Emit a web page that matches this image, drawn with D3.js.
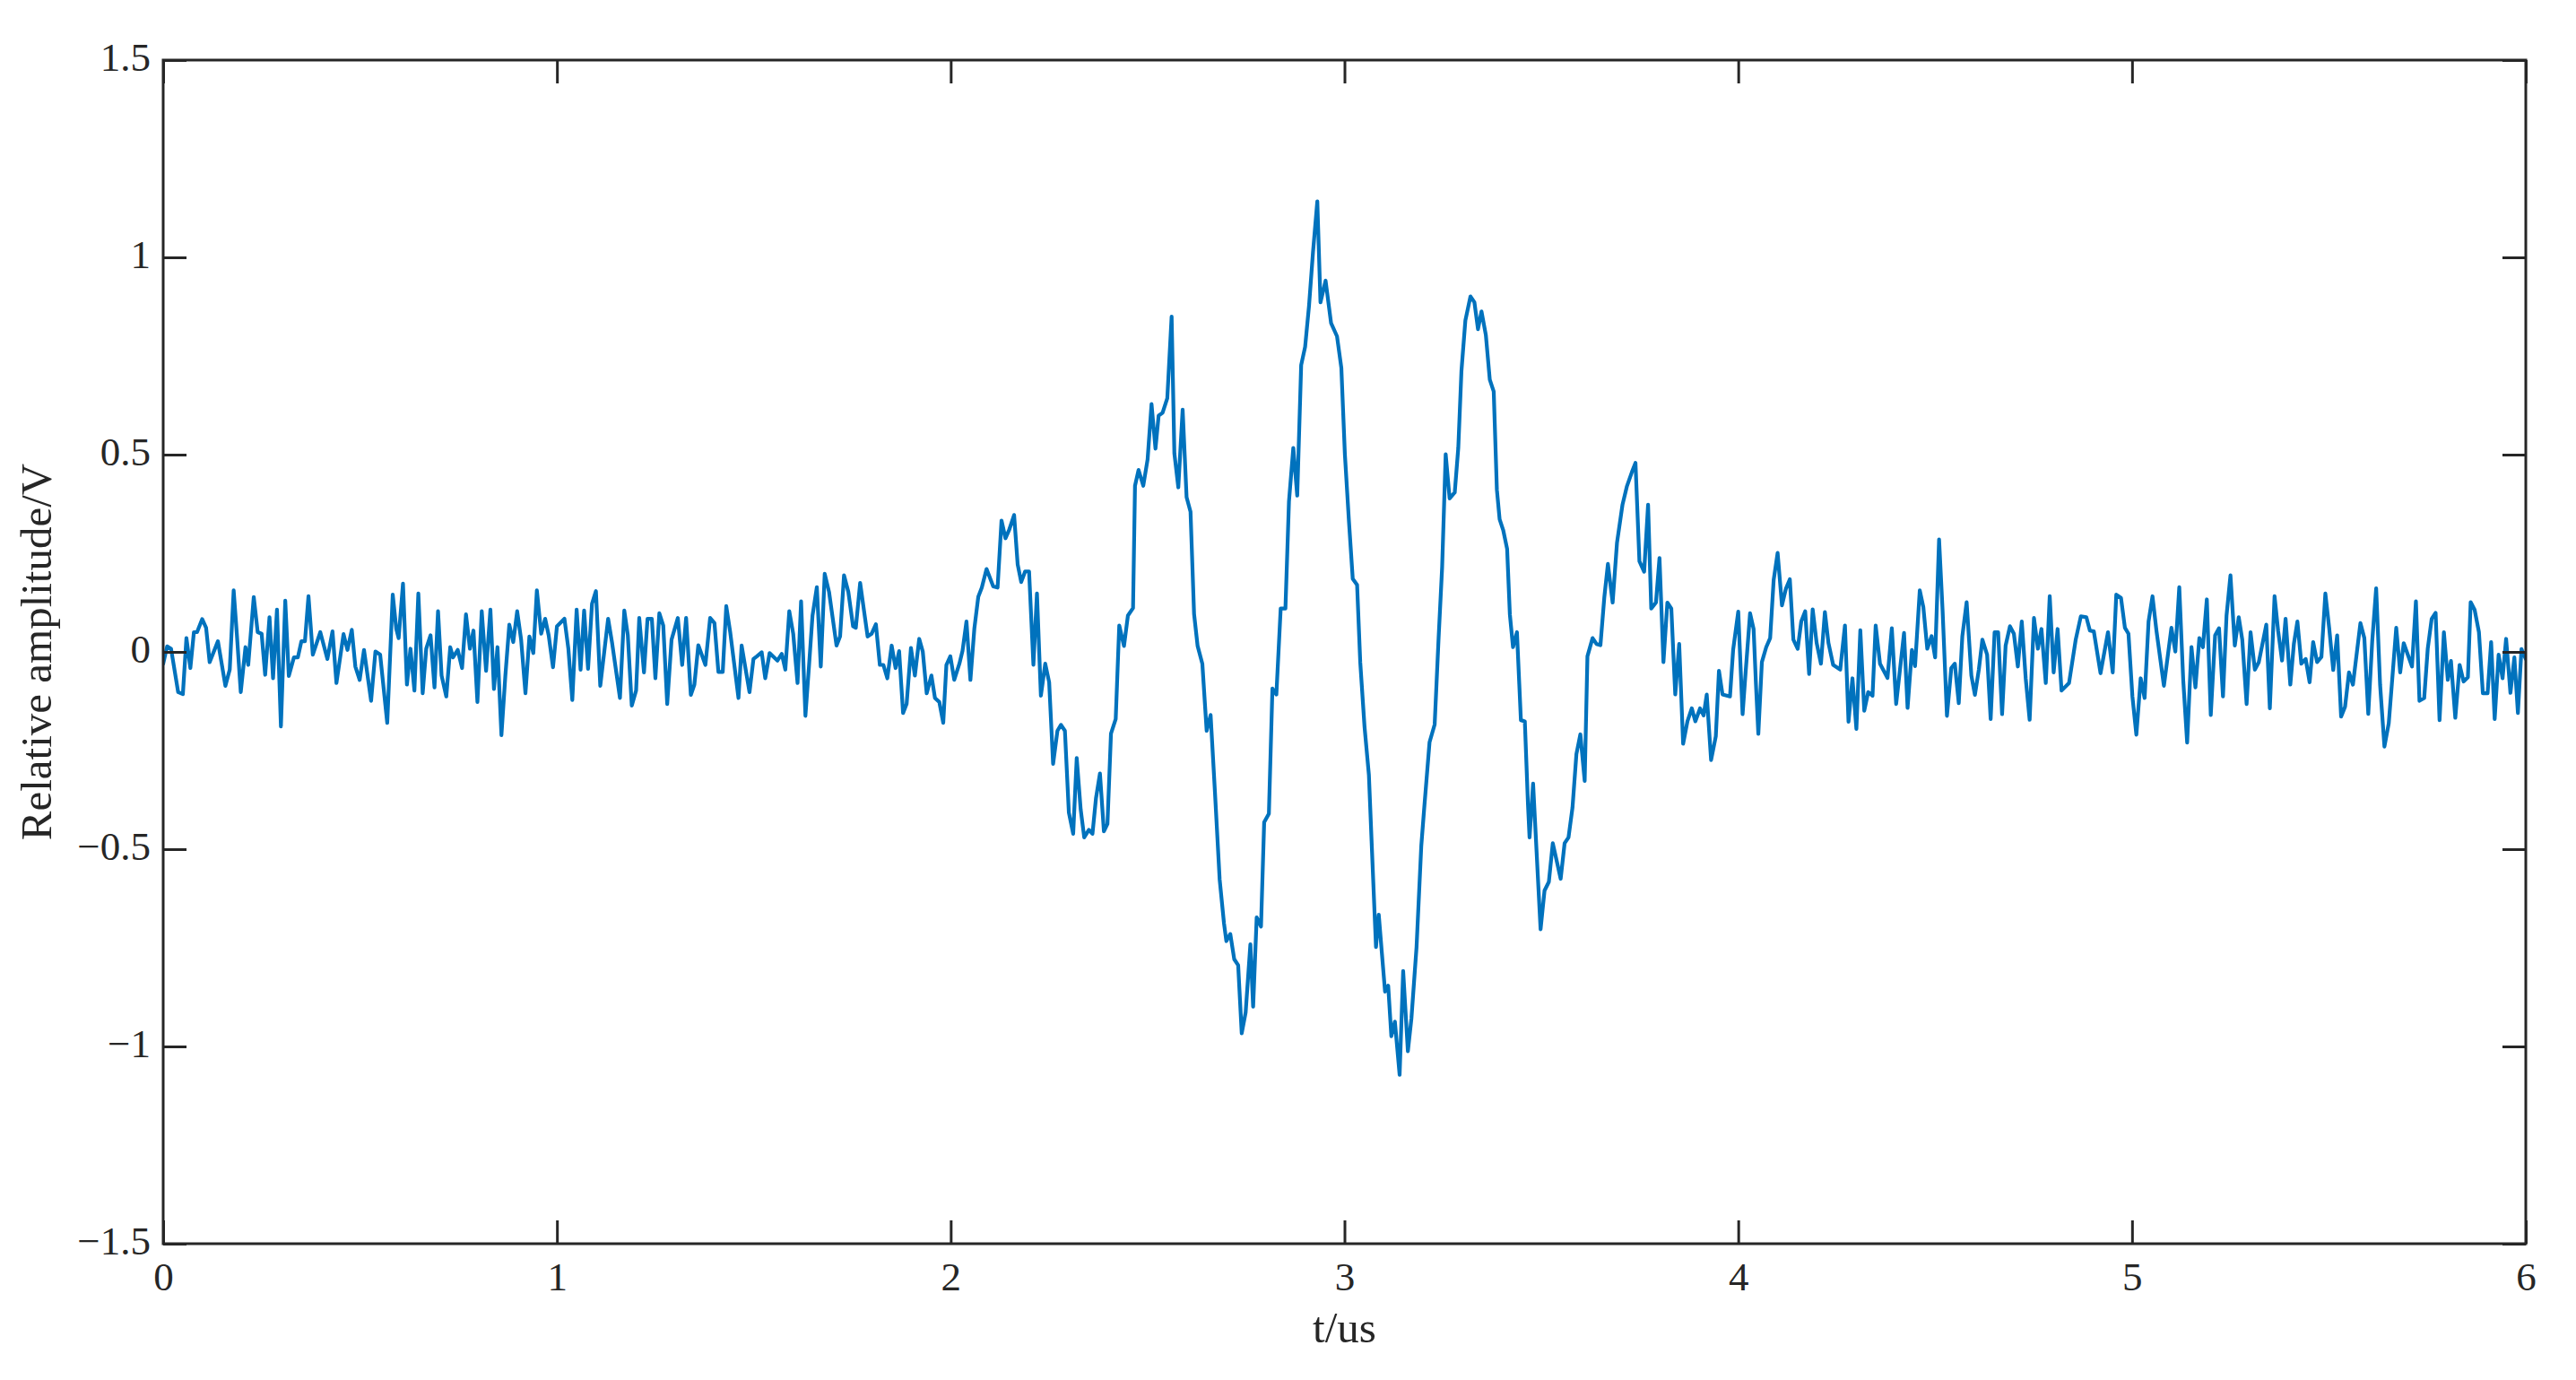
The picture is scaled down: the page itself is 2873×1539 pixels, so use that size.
<!DOCTYPE html>
<html><head><meta charset="utf-8">
<script src="https://cdn.jsdelivr.net/npm/d3@7"></script>
<style>html,body{margin:0;padding:0;background:#fff;} svg{display:block;}</style>
</head><body>
<svg id="chart" width="2873" height="1539"></svg>
<script>
const xTicks = [0, 1, 2, 3, 4, 5, 6];
const yTicks = [-1.5, -1, -0.5, 0, 0.5, 1, 1.5];
const yTickLabels = ["\u22121.5", "\u22121", "\u22120.5", "0", "0.5", "1", "1.5"];
const xLabel = "t/us";
const yLabel = "Relative amplitude/V";

const timeUs = [
0.000,0.010,0.020,0.038,0.050,0.059,0.069,0.078,0.086,0.099,
0.109,0.118,0.139,0.158,0.169,0.179,0.187,0.197,0.209,0.216,
0.230,0.240,0.250,0.259,0.270,0.279,0.289,0.299,0.310,0.319,
0.332,0.342,0.351,0.360,0.369,0.380,0.399,0.417,0.430,0.440,
0.458,0.468,0.479,0.488,0.499,0.510,0.528,0.539,0.551,0.569,
0.583,0.592,0.598,0.609,0.619,0.628,0.638,0.648,0.659,
0.668,0.679,0.689,0.698,0.707,0.719,0.729,0.736,0.748,0.759,
0.769,0.779,0.788,0.798,0.809,0.820,0.831,0.840,0.849,0.859,
0.869,0.879,0.889,0.899,0.909,0.920,0.930,0.940,0.949,0.960,
0.970,0.979,0.990,1.000,1.019,1.029,1.039,1.050,1.060,1.069,
1.079,1.089,1.099,1.110,1.130,1.140,1.160,1.171,1.180,1.190,
1.201,1.209,1.221,1.230,1.241,1.250,1.260,1.270,1.280,1.291,
1.307,1.318,1.328,1.340,
1.349,1.359,1.377,1.389,1.400,1.410,1.421,1.430,1.440,1.461,
1.469,1.478,1.489,1.499,1.508,1.520,1.529,1.540,1.560,1.571,
1.580,1.590,1.600,1.611,1.620,1.631,1.640,1.649,1.660,1.670,
1.680,1.691,1.710,1.719,1.729,1.740,1.752,1.759,1.770,1.780,
1.789,1.799,1.810,1.820,1.829,1.839,1.850,1.860,1.869,1.879,
1.888,1.899,1.909,1.920,1.929,1.939,1.951,1.960,1.971,1.981,
1.989,1.999,
2.009,2.022,2.030,2.040,2.050,2.060,2.070,2.079,2.091,2.108,
2.119,2.129,2.139,2.148,2.161,2.170,2.179,2.189,2.199,2.210,
2.219,2.229,2.240,2.250,2.260,2.271,2.280,2.290,2.300,2.311,
2.320,2.330,2.339,2.351,2.360,2.369,2.379,2.389,2.398,2.407,
2.419,2.428,2.440,2.450,2.463,2.468,2.477,2.489,2.500,2.510,
2.520,2.528,2.538,2.550,2.561,2.568,2.578,2.589,2.599,2.609,
2.618,2.627,2.639,2.650,2.660,2.671,2.683,2.694,
2.700,2.710,2.720,2.730,2.739,2.749,2.761,2.768,2.777,2.788,
2.796,2.808,2.817,2.827,2.838,2.850,2.859,2.870,2.880,2.890,
2.900,2.910,2.920,2.931,2.939,2.952,2.966,2.981,2.992,3.001,
3.011,3.021,3.032,3.040,3.051,3.062,3.070,3.080,3.087,3.095,
3.103,3.111,3.119,3.128,3.140,3.149,3.161,3.170,3.183,3.195,
3.202,3.216,3.229,3.239,3.248,3.257,3.267,3.280,3.289,3.297,
3.307,3.320,3.330,3.339,3.348,
3.359,3.369,3.379,3.387,3.394,3.403,3.413,3.420,3.428,3.438,
3.448,3.458,3.466,3.470,3.479,3.491,3.498,3.508,3.519,3.529,
3.549,3.559,3.569,3.579,3.589,3.599,3.610,3.617,3.630,3.640,
3.650,3.660,3.669,3.681,3.692,3.706,3.717,3.730,3.739,3.749,
3.761,3.771,3.779,3.791,3.800,3.810,3.820,3.830,3.840,3.850,
3.860,3.871,3.882,3.891,3.903,3.912,3.920,3.931,3.943,3.951,
3.960,3.979,3.987,4.000,
4.011,4.019,4.030,4.039,4.045,4.051,4.060,4.071,4.081,4.090,
4.100,4.111,4.121,4.131,4.140,4.151,4.160,4.170,4.180,4.189,
4.199,4.210,4.220,4.229,4.241,4.259,4.271,4.280,4.290,4.300,
4.310,4.320,4.330,4.341,4.349,4.360,4.379,4.390,4.401,4.421,
4.430,4.441,4.449,4.461,4.470,4.480,4.491,4.500,4.510,4.519,
4.530,4.541,4.550,4.560,4.569,4.580,4.592,4.601,4.611,4.620,
4.632,4.641,4.651,4.660,4.670,
4.679,4.690,4.700,4.710,4.720,4.730,4.740,4.751,4.761,4.770,
4.781,4.791,4.801,4.811,4.821,4.840,4.857,4.870,4.884,4.893,
4.903,4.920,4.939,4.951,4.960,4.972,4.982,4.991,5.001,5.011,
5.022,5.032,5.042,5.052,5.062,5.081,5.100,5.110,5.120,5.130,
5.140,5.151,5.161,5.171,5.180,5.190,5.200,5.211,5.221,5.231,
5.240,5.250,5.261,5.271,5.280,5.291,5.301,5.312,5.322,5.341,
5.350,5.362,5.371,5.381,5.390,5.402,5.411,5.420,5.430,5.441,
5.451,5.460,5.470,5.481,5.491,5.501,5.511,5.521,5.531,5.541,
5.551,5.561,5.580,5.590,5.600,5.610,5.620,5.630,5.641,5.652,
5.661,5.671,5.681,5.690,5.711,5.721,5.730,5.742,5.751,5.761,
5.771,5.781,5.792,5.802,5.810,5.821,5.832,5.842,5.853,5.860,
5.870,5.881,5.891,5.903,5.912,5.921,5.931,5.941,5.950,5.961,
5.971,5.980,5.989,6.000
];

const amplitude = [
-0.030,0.014,0.008,-0.102,-0.107,0.035,-0.041,0.050,0.050,0.083,
0.061,-0.026,0.027,-0.086,-0.045,0.156,0.046,-0.102,0.012,-0.033,
0.139,0.050,0.046,-0.058,0.088,-0.067,0.107,-0.189,0.130,-0.061,
-0.014,-0.014,0.027,0.027,0.141,-0.007,0.050,-0.018,0.052,-0.079,
0.045,0.005,0.056,-0.037,-0.071,0.005,-0.124,0.001,-0.007,-0.180,
0.145,0.058,0.035,0.173,-0.083,0.008,-0.098,0.148,-0.105,
0.008,0.042,-0.090,0.103,-0.060,-0.113,0.012,-0.014,0.005,-0.041,
0.095,0.008,0.054,-0.127,0.103,-0.048,0.107,-0.094,0.012,-0.211,
-0.060,0.069,0.025,0.103,0.031,-0.105,0.039,-0.003,0.156,0.046,
0.084,0.042,-0.039,0.065,0.084,0.008,-0.122,0.107,-0.045,0.105,
-0.043,0.122,0.154,-0.086,0.084,0.023,-0.117,0.105,0.042,-0.136,
-0.098,0.086,-0.052,0.084,0.084,-0.067,0.098,0.067,-0.132,0.031,
0.086,-0.033,0.086,-0.109,
-0.083,0.017,-0.033,0.086,0.073,-0.051,-0.051,0.116,0.050,-0.117,
0.016,-0.037,-0.102,-0.018,-0.011,-0.001,-0.067,-0.003,-0.022,-0.005,
-0.045,0.103,0.046,-0.079,0.128,-0.162,-0.037,0.092,0.164,-0.037,
0.198,0.152,0.016,0.039,0.194,0.152,0.065,0.061,0.175,0.103,
0.039,0.046,0.070,-0.033,-0.033,-0.067,0.016,-0.041,0.002,-0.155,
-0.132,0.010,-0.060,0.033,0.001,-0.105,-0.060,-0.117,-0.127,-0.180,
-0.033,-0.011,
-0.071,-0.030,0.003,0.077,-0.071,0.059,0.140,0.163,0.210,0.166,
0.163,0.333,0.288,0.308,0.347,0.222,0.177,0.204,0.204,-0.033,
0.148,-0.111,-0.030,-0.077,-0.284,-0.200,-0.185,-0.200,-0.407,-0.461,
-0.269,-0.399,-0.470,-0.451,-0.461,-0.370,-0.308,-0.455,-0.436,-0.207,
-0.170,0.067,0.015,0.092,0.111,0.421,0.461,0.421,0.488,0.628,
0.515,0.599,0.606,0.643,0.850,0.503,0.417,0.614,0.392,0.355,
0.096,0.015,-0.030,-0.200,-0.160,-0.355,-0.577,-0.688,
-0.733,-0.715,-0.779,-0.794,-0.967,-0.914,-0.741,-0.899,-0.673,-0.696,
-0.432,-0.410,-0.093,-0.108,0.110,0.110,0.381,0.517,0.396,0.727,
0.773,0.878,1.013,1.142,0.886,0.941,0.833,0.800,0.720,0.501,
0.336,0.185,0.170,-0.026,-0.191,-0.312,-0.508,-0.748,-0.666,-0.764,
-0.861,-0.846,-0.974,-0.937,-1.072,-0.809,-1.012,-0.929,-0.748,-0.492,
-0.402,-0.229,-0.184,0.035,0.215,0.501,0.389,0.404,0.517,0.712,
0.840,0.901,0.886,0.818,0.863,
0.803,0.690,0.660,0.411,0.336,0.309,0.261,0.095,0.012,0.050,
-0.173,-0.176,-0.387,-0.470,-0.334,-0.568,-0.703,-0.605,-0.583,-0.485,
-0.575,-0.485,-0.470,-0.395,-0.259,-0.209,-0.327,-0.011,0.035,0.020,
0.017,0.140,0.223,0.125,0.276,0.373,0.419,0.456,0.479,0.230,
0.203,0.373,0.110,0.125,0.238,-0.026,0.125,0.110,-0.108,0.020,
-0.233,-0.176,-0.143,-0.176,-0.143,-0.161,-0.108,-0.274,-0.214,-0.048,
-0.108,-0.113,0.005,0.102,
-0.158,-0.048,0.098,0.058,-0.083,-0.208,-0.026,0.012,0.035,0.183,
0.251,0.118,0.160,0.184,0.031,0.008,0.077,0.103,-0.056,0.108,
0.023,-0.030,0.101,0.023,-0.033,-0.045,0.067,-0.177,-0.067,-0.195,
0.055,-0.149,-0.102,-0.111,0.067,-0.030,-0.066,0.060,-0.132,0.048,
-0.142,0.005,-0.036,0.156,0.114,0.008,0.040,-0.014,0.285,0.103,
-0.162,-0.041,-0.030,-0.130,0.039,0.126,-0.060,-0.109,-0.045,0.031,
-0.007,-0.170,0.050,0.050,-0.158,
0.016,0.065,0.046,-0.037,0.077,-0.067,-0.172,0.086,0.008,0.058,
-0.079,0.141,-0.052,0.058,-0.098,-0.079,0.031,0.090,0.088,0.054,
0.052,-0.054,0.050,-0.052,0.145,0.137,0.061,0.046,-0.113,-0.210,
-0.067,-0.117,0.077,0.141,0.054,-0.086,0.061,0.001,0.164,-0.071,
-0.230,0.012,-0.090,0.035,0.012,0.133,-0.160,0.042,0.060,-0.113,
0.092,0.194,0.016,0.088,0.031,-0.132,0.050,-0.045,-0.026,0.069,
-0.143,0.141,0.054,-0.022,0.084,-0.083,0.020,0.077,-0.030,-0.018,
-0.077,0.025,-0.026,-0.013,0.148,0.058,-0.046,0.042,-0.164,-0.139,
-0.052,-0.083,0.073,0.035,-0.157,0.027,0.161,-0.083,-0.240,-0.181,
-0.067,0.061,-0.052,0.022,-0.037,0.128,-0.124,-0.117,0.008,0.084,
0.099,-0.173,0.050,-0.071,-0.023,-0.167,-0.033,-0.075,-0.064,0.126,
0.107,0.050,-0.105,-0.105,0.025,-0.170,-0.007,-0.067,0.033,-0.104,
-0.014,-0.155,0.007,-0.018
];

const W = 2873, H = 1539;
const box = { left: 182, right: 2817, top: 67, bottom: 1387 };
const axisColor = "#262626";
const tickFont = "'Liberation Serif', 'Times New Roman', serif";

const svg = d3.select("#chart");
svg.append("rect").attr("width", W).attr("height", H).attr("fill", "#fff");

const x = d3.scaleLinear().domain([0, 6]).range([box.left, box.right]);
const y = d3.scaleLinear().domain([-1.5, 1.5]).range([box.bottom, box.top]);

const n = Math.min(timeUs.length, amplitude.length);
const pts = d3.range(n).map(i => [timeUs[i], amplitude[i]]);

svg.append("defs").append("clipPath").attr("id", "clip")
  .append("rect").attr("x", box.left).attr("y", box.top)
  .attr("width", box.right - box.left).attr("height", box.bottom - box.top);

svg.append("path")
  .datum(pts)
  .attr("clip-path", "url(#clip)")
  .attr("fill", "none")
  .attr("stroke", "#0072BD")
  .attr("stroke-width", 4.2)
  .attr("stroke-linejoin", "round")
  .attr("stroke-linecap", "round")
  .attr("d", d3.line().x(d => x(d[0])).y(d => y(d[1])));

const TICK = 26;
function styleAxis(g) {
  g.select(".domain").remove();
  g.selectAll(".tick line").attr("stroke", axisColor).attr("stroke-width", 3);
  g.selectAll(".tick text").attr("fill", axisColor)
    .style("font-family", tickFont).style("font-size", "45px");
}

svg.append("g").attr("transform", `translate(0,${box.bottom})`)
  .call(d3.axisBottom(x).tickValues(xTicks).tickFormat(d3.format("d"))
    .tickSizeInner(-TICK).tickSizeOuter(0).tickPadding(20))
  .call(styleAxis);

svg.append("g").attr("transform", `translate(0,${box.top})`)
  .call(d3.axisTop(x).tickValues(xTicks).tickFormat(() => "")
    .tickSizeInner(-TICK).tickSizeOuter(0))
  .call(styleAxis);

svg.append("g").attr("transform", `translate(${box.left},0)`)
  .call(d3.axisLeft(y).tickValues(yTicks).tickFormat((d, i) => yTickLabels[i])
    .tickSizeInner(-TICK).tickSizeOuter(0).tickPadding(14))
  .call(styleAxis)
  .call(g => g.selectAll(".tick text").attr("dy", "0.25em"));

svg.append("g").attr("transform", `translate(${box.right},0)`)
  .call(d3.axisRight(y).tickValues(yTicks).tickFormat(() => "")
    .tickSizeInner(-TICK).tickSizeOuter(0))
  .call(styleAxis);

svg.append("rect")
  .attr("x", box.left).attr("y", box.top)
  .attr("width", box.right - box.left).attr("height", box.bottom - box.top)
  .attr("fill", "none").attr("stroke", axisColor).attr("stroke-width", 3);

svg.append("text")
  .attr("x", (box.left + box.right) / 2).attr("y", 1497)
  .attr("text-anchor", "middle").attr("fill", axisColor)
  .style("font-family", tickFont).style("font-size", "49px")
  .text(xLabel);

svg.append("text")
  .attr("transform", `translate(57,${(box.top + box.bottom) / 2}) rotate(-90)`)
  .attr("text-anchor", "middle").attr("fill", axisColor)
  .style("font-family", tickFont).style("font-size", "49px")
  .text(yLabel);
</script>
</body></html>
